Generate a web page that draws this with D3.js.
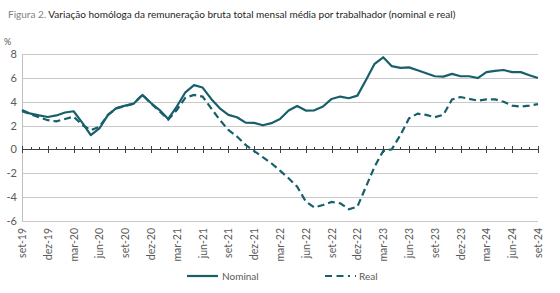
<!DOCTYPE html>
<html>
<head>
<meta charset="utf-8">
<script src="https://cdn.jsdelivr.net/npm/d3@7"></script>
<style>
  body { margin: 0; background: #fff; }
  text { font-family: Lato, "Liberation Sans", sans-serif; }
</style>
</head>
<body>
<div id="chart"></div>
<script>
// months from set-19 (index 0) to set-24 (index 60)
const tickLabels = ["set-19", "dez-19", "mar-20", "jun-20", "set-20", "dez-20", "mar-21",
    "jun-21", "set-21", "dez-21", "mar-22", "jun-22", "set-22", "dez-22", "mar-23",
    "jun-23", "set-23", "dez-23", "mar-24", "jun-24", "set-24"];

const nominal = [3.3, 3.0, 2.85, 2.72, 2.85, 3.1, 3.2, 2.25, 1.2, 1.75,
    2.9, 3.48, 3.68, 3.85, 4.58, 3.9, 3.3, 2.55, 3.6, 4.8,
    5.4, 5.2, 4.24, 3.45, 2.9, 2.7, 2.25, 2.22, 2.02, 2.2,
    2.55, 3.26, 3.65, 3.26, 3.28, 3.6, 4.24, 4.44, 4.3, 4.52,
    5.84, 7.2, 7.75, 7.0, 6.85, 6.9, 6.65, 6.4, 6.15, 6.12,
    6.35, 6.15, 6.15, 6.0, 6.5, 6.6, 6.68, 6.5, 6.5, 6.24, 6.0];

const real = [3.2, 2.95, 2.7, 2.45, 2.35, 2.55, 2.75, 2.05, 1.6, 1.9,
    2.9, 3.45, 3.65, 3.85, 4.6, 3.85, 3.2, 2.5, 3.3, 4.35,
    4.58, 4.44, 3.45, 2.47, 1.63, 1.07, 0.37, -0.15, -0.67, -1.18,
    -1.8, -2.44, -3.15, -4.4, -4.9, -4.7, -4.44, -4.55, -5.05, -4.83,
    -3.15, -1.46, -0.15, 0.0, 1.2, 2.6, 3.0, 2.9, 2.7, 2.9,
    4.2, 4.4, 4.25, 4.1, 4.2, 4.2, 4.0, 3.68, 3.6, 3.68, 3.8];

const yTicks = [-6, -4, -2, 0, 2, 4, 6, 8];
const seriesNames = ["Nominal", "Real"];

const W = 560, H = 293;
const lineColor = "#175f6b";
const textColor = "#595959";

const svg = d3.select("#chart").append("svg")
    .attr("width", W)
    .attr("height", H);

const x = d3.scaleLinear().domain([0, 60]).range([22, 538]);
const y = d3.scaleLinear().domain([-6, 8]).range([220.5, 54.3]);

// title - shrink the font so it spans the same width as the reference
const title = svg.append("text")
    .attr("x", 8)
    .attr("y", 18)
    .style("font-size", "12px");
title.append("tspan").attr("fill", "#7f7f7f").text("Figura 2. ");
title.append("tspan").attr("fill", "#262626").text("Variação homóloga da remuneração bruta total mensal média por trabalhador (nominal e real)");
const natural = title.node().getComputedTextLength();
title.style("font-size", (12 * 448 / natural).toFixed(2) + "px");

svg.append("text")
    .attr("x", 4)
    .attr("y", 45)
    .attr("fill", textColor)
    .style("font-size", "9px")
    .text("%");

// gridlines
svg.selectAll(".grid")
    .data(yTicks.filter(d => d != 0))
    .join("line")
    .attr("class", "grid")
    .attr("x1", x(0))
    .attr("x2", x(60))
    .attr("y1", d => Math.round(y(d)) + 0.5)
    .attr("y2", d => Math.round(y(d)) + 0.5)
    .attr("stroke", "#c9c9c9")
    .attr("stroke-width", 1);

// y axis line
svg.append("line")
    .attr("x1", x(0) + 0.5).attr("x2", x(0) + 0.5)
    .attr("y1", y(8)).attr("y2", y(-6) + 0.5)
    .attr("stroke", "#bfbfbf");

svg.selectAll(".ylab")
    .data(yTicks)
    .join("text")
    .attr("class", "ylab")
    .attr("x", 17)
    .attr("y", d => y(d) + 4)
    .attr("text-anchor", "end")
    .attr("fill", textColor)
    .style("font-size", "11px")
    .text(d => d);

// x axis at zero
const y0 = Math.round(y(0)) + 0.5;
svg.append("line")
    .attr("x1", x(0)).attr("x2", x(60))
    .attr("y1", y0).attr("y2", y0)
    .attr("stroke", "#404040");

const months = d3.range(0, 61);
svg.selectAll(".tick")
    .data(months)
    .join("line")
    .attr("class", "tick")
    .attr("x1", d => Math.round(x(d)) + 0.5)
    .attr("x2", d => Math.round(x(d)) + 0.5)
    .attr("y1", d => d % 3 == 0 ? y0 - 3.5 : y0 - 2.5)
    .attr("y2", d => d % 3 == 0 ? y0 + 3.5 : y0)
    .attr("stroke", "#404040");

svg.selectAll(".xlab")
    .data(tickLabels)
    .join("text")
    .attr("class", "xlab")
    .attr("transform", (d, i) => `translate(${x(i * 3) + 4},228) rotate(-90)`)
    .attr("text-anchor", "end")
    .attr("fill", textColor)
    .style("font-size", "10.5px")
    .text(d => d);

// lines
const line = d3.line()
    .x((d, i) => x(i))
    .y(d => y(d));

svg.append("path")
    .datum(real)
    .attr("d", line)
    .attr("fill", "none")
    .attr("stroke", lineColor)
    .attr("stroke-width", 2.2)
    .attr("stroke-dasharray", "7,4");

svg.append("path")
    .datum(nominal)
    .attr("d", line)
    .attr("fill", "none")
    .attr("stroke", lineColor)
    .attr("stroke-width", 2.2)
    .attr("stroke-linejoin", "round");

// legend
svg.append("line")
    .attr("x1", 187).attr("x2", 218)
    .attr("y1", 276).attr("y2", 276)
    .attr("stroke", lineColor)
    .attr("stroke-width", 2.2);
svg.append("line")
    .attr("x1", 325).attr("x2", 356)
    .attr("y1", 276).attr("y2", 276)
    .attr("stroke", lineColor)
    .attr("stroke-width", 2.2)
    .attr("stroke-dasharray", "7,4.5,7,4.5,2,5");

svg.selectAll(".leg")
    .data(seriesNames)
    .join("text")
    .attr("class", "leg")
    .attr("x", (d, i) => i == 0 ? 222 : 359)
    .attr("y", 279.5)
    .attr("fill", textColor)
    .style("font-size", "10px")
    .text(d => d);
</script>
</body>
</html>
